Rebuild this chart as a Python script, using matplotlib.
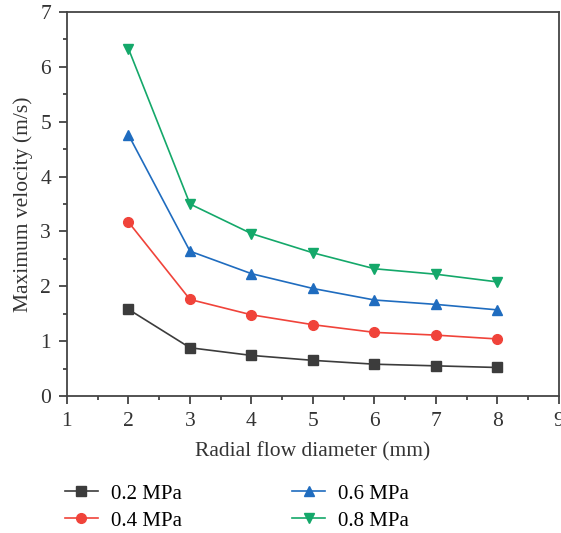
import matplotlib
matplotlib.use('Agg')
import matplotlib.pyplot as plt
from matplotlib.ticker import MultipleLocator

plt.rcParams['font.family'] = ['Liberation Serif', 'DejaVu Serif']

diameter = [2, 3, 4, 5, 6, 7, 8]
v_02 = [1.58, 0.88, 0.74, 0.65, 0.58, 0.55, 0.52]
v_04 = [3.17, 1.76, 1.48, 1.30, 1.16, 1.11, 1.04]
v_06 = [4.76, 2.64, 2.23, 1.96, 1.75, 1.67, 1.57]
v_08 = [6.33, 3.50, 2.96, 2.61, 2.32, 2.22, 2.08]
labels = ['0.2 MPa', '0.4 MPa', '0.6 MPa', '0.8 MPa']

colors = ['#3c3c3c', '#f0433a', '#1f6cbf', '#14a86a']
markers = ['s', 'o', '^', 'v']

fig = plt.figure(figsize=(5.61, 5.33), dpi=100)
ax = fig.add_axes([0.1194, 0.257, 0.877, 0.7205])

for vals, lab, c, m in zip([v_02, v_04, v_06, v_08], labels, colors, markers):
    ax.plot(diameter, vals, color=c, marker=m, markersize=7, linewidth=1.2, label=lab)

ax.set_xlim(1, 9)
ax.set_ylim(0, 7)
ax.xaxis.set_major_locator(MultipleLocator(1))
ax.xaxis.set_minor_locator(MultipleLocator(0.5))
ax.yaxis.set_major_locator(MultipleLocator(1))
ax.yaxis.set_minor_locator(MultipleLocator(0.5))
ax.tick_params(which='major', direction='out', length=5.5, width=1.2, pad=6,
               labelsize=15.5, colors='#333333')
ax.tick_params(which='minor', direction='out', length=3, width=1.2, colors='#333333')
for s in ax.spines.values():
    s.set_color('#444444')
    s.set_linewidth(1.3)

ax.set_xlabel('Radial flow diameter (mm)', fontsize=15.5, color='#333333', labelpad=8)
ax.set_ylabel('Maximum velocity (m/s)', fontsize=15.5, color='#333333', labelpad=5)

fig.legend(loc='center', bbox_to_anchor=(0.422, 0.048), ncol=2, frameon=False,
           fontsize=15, columnspacing=5.3, handlelength=1.6, handletextpad=0.6,
           labelspacing=0.35)

fig.savefig('out.png', dpi=100)
